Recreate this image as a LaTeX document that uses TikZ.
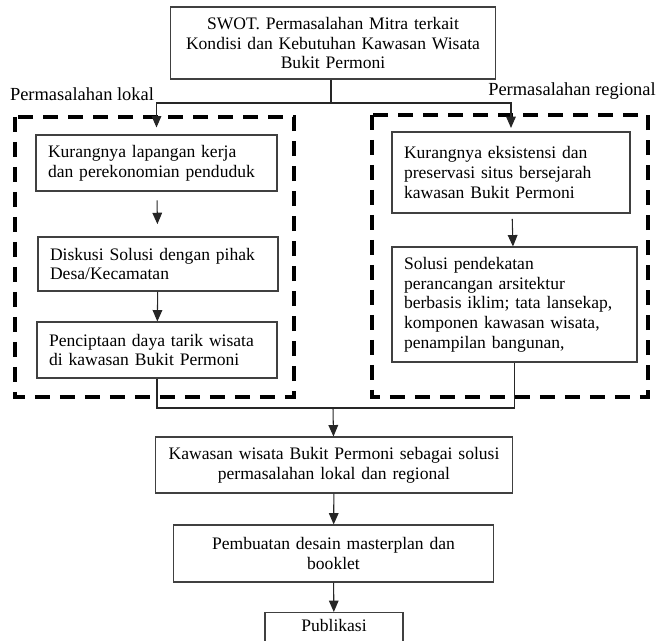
\documentclass[tikz,border=0pt]{standalone}
\usepackage{fontspec}
\setmainfont{Liberation Serif}
\usepackage{tikz}
\usetikzlibrary{arrows.meta}

\begin{document}
\begin{tikzpicture}[->, x=0.02cm, y=-0.02cm]
\tikzset{BoxStyle/.style = {draw=black!75, line width=0.6pt, inner xsep=0.24cm, inner ysep=2pt, font=\fontsize{10}{11.2}\selectfont}}
\tikzset{EdgeStyle/.style = {-{Triangle[length=6.5pt, width=5.5pt]}, draw=black!85, line width=0.6pt}}
\tikzset{FrameStyle/.style = {-, line width=1.8pt, dash pattern=on 0.3cm off 0.2cm}}
\tikzset{LabelStyle/.style = {font=\fontsize{10.5}{12}\selectfont, inner sep=0pt}}
  \useasboundingbox (0,0) rectangle (667,641);
  % frames of the two groups
  \draw[FrameStyle] (15,117) rectangle (294,397);
  \draw[FrameStyle] (372,115) rectangle (648,397);
  \node[LabelStyle] (lokal) at (82,94) {Permasalahan lokal};
  \node[LabelStyle] (regional) at (572,91) {Permasalahan regional};
  % boxes
  \node[BoxStyle, text width=6.04cm, minimum height=1.44cm, align=center] (swot) at (333,43)
    {SWOT. Permasalahan Mitra terkait\\ Kondisi dan Kebutuhan Kawasan Wisata\\ Bukit Permoni};
  \node[BoxStyle, text width=4.34cm, minimum height=1.12cm, align=left] (kerja) at (156.5,163)
    {Kurangnya lapangan kerja\\ dan perekonomian penduduk};
  \node[BoxStyle, text width=4.32cm, minimum height=1.08cm, align=left] (diskusi) at (158,264)
    {Diskusi Solusi dengan pihak\\ Desa/Kecamatan};
  \node[BoxStyle, text width=4.32cm, minimum height=1.12cm, align=left] (daya) at (157,350)
    {Penciptaan daya tarik wisata\\ di kawasan Bukit Permoni};
  \node[BoxStyle, text width=4.28cm, minimum height=1.62cm, align=left] (situs) at (511,172.5)
    {Kurangnya eksistensi dan\\ preservasi situs bersejarah\\ kawasan Bukit Permoni};
  \node[BoxStyle, text width=4.42cm, minimum height=2.3cm, align=left] (solusi) at (514.5,304.5)
    {Solusi pendekatan\\ perancangan arsitektur\\ berbasis iklim; tata lansekap,\\ komponen kawasan wisata,\\ penampilan bangunan,};
  \node[BoxStyle, text width=6.68cm, minimum height=1.12cm, align=center] (kawasan) at (334,465)
    {Kawasan wisata Bukit Permoni sebagai solusi\\ permasalahan lokal dan regional};
  \node[BoxStyle, text width=5.94cm, minimum height=1.14cm, align=center] (desain) at (333.5,553.5)
    {Pembuatan desain masterplan dan\\ booklet};
  % last box runs off the page at the bottom
  \node[BoxStyle, text width=2.28cm, inner ysep=4pt, text depth=0.8cm, anchor=north, align=center] (publikasi) at (334,612)
    {Publikasi};
  % connectors
  \coordinate (fork) at (331,103);
  \coordinate (join) at (333,408);
  \draw[EdgeStyle, -] (swot.south -| fork) -- (fork);
  \draw[EdgeStyle, shorten >=4pt] (fork) -| (kerja);
  \draw[EdgeStyle, shorten >=2pt] (fork) -| (situs);
  \draw[EdgeStyle, shorten <=5pt, shorten >=7pt] (kerja) -- (diskusi);
  \draw[EdgeStyle] (diskusi) -- (daya);
  \draw[EdgeStyle, shorten <=3pt] (situs) -- (solusi);
  \draw[EdgeStyle, -] (daya.south) |- (join) -| (solusi.south);
  \draw[EdgeStyle] (join) -- (kawasan);
  \draw[EdgeStyle] (kawasan) -- (desain);
  \draw[EdgeStyle] (desain) -- (publikasi);
\end{tikzpicture}
\end{document}
